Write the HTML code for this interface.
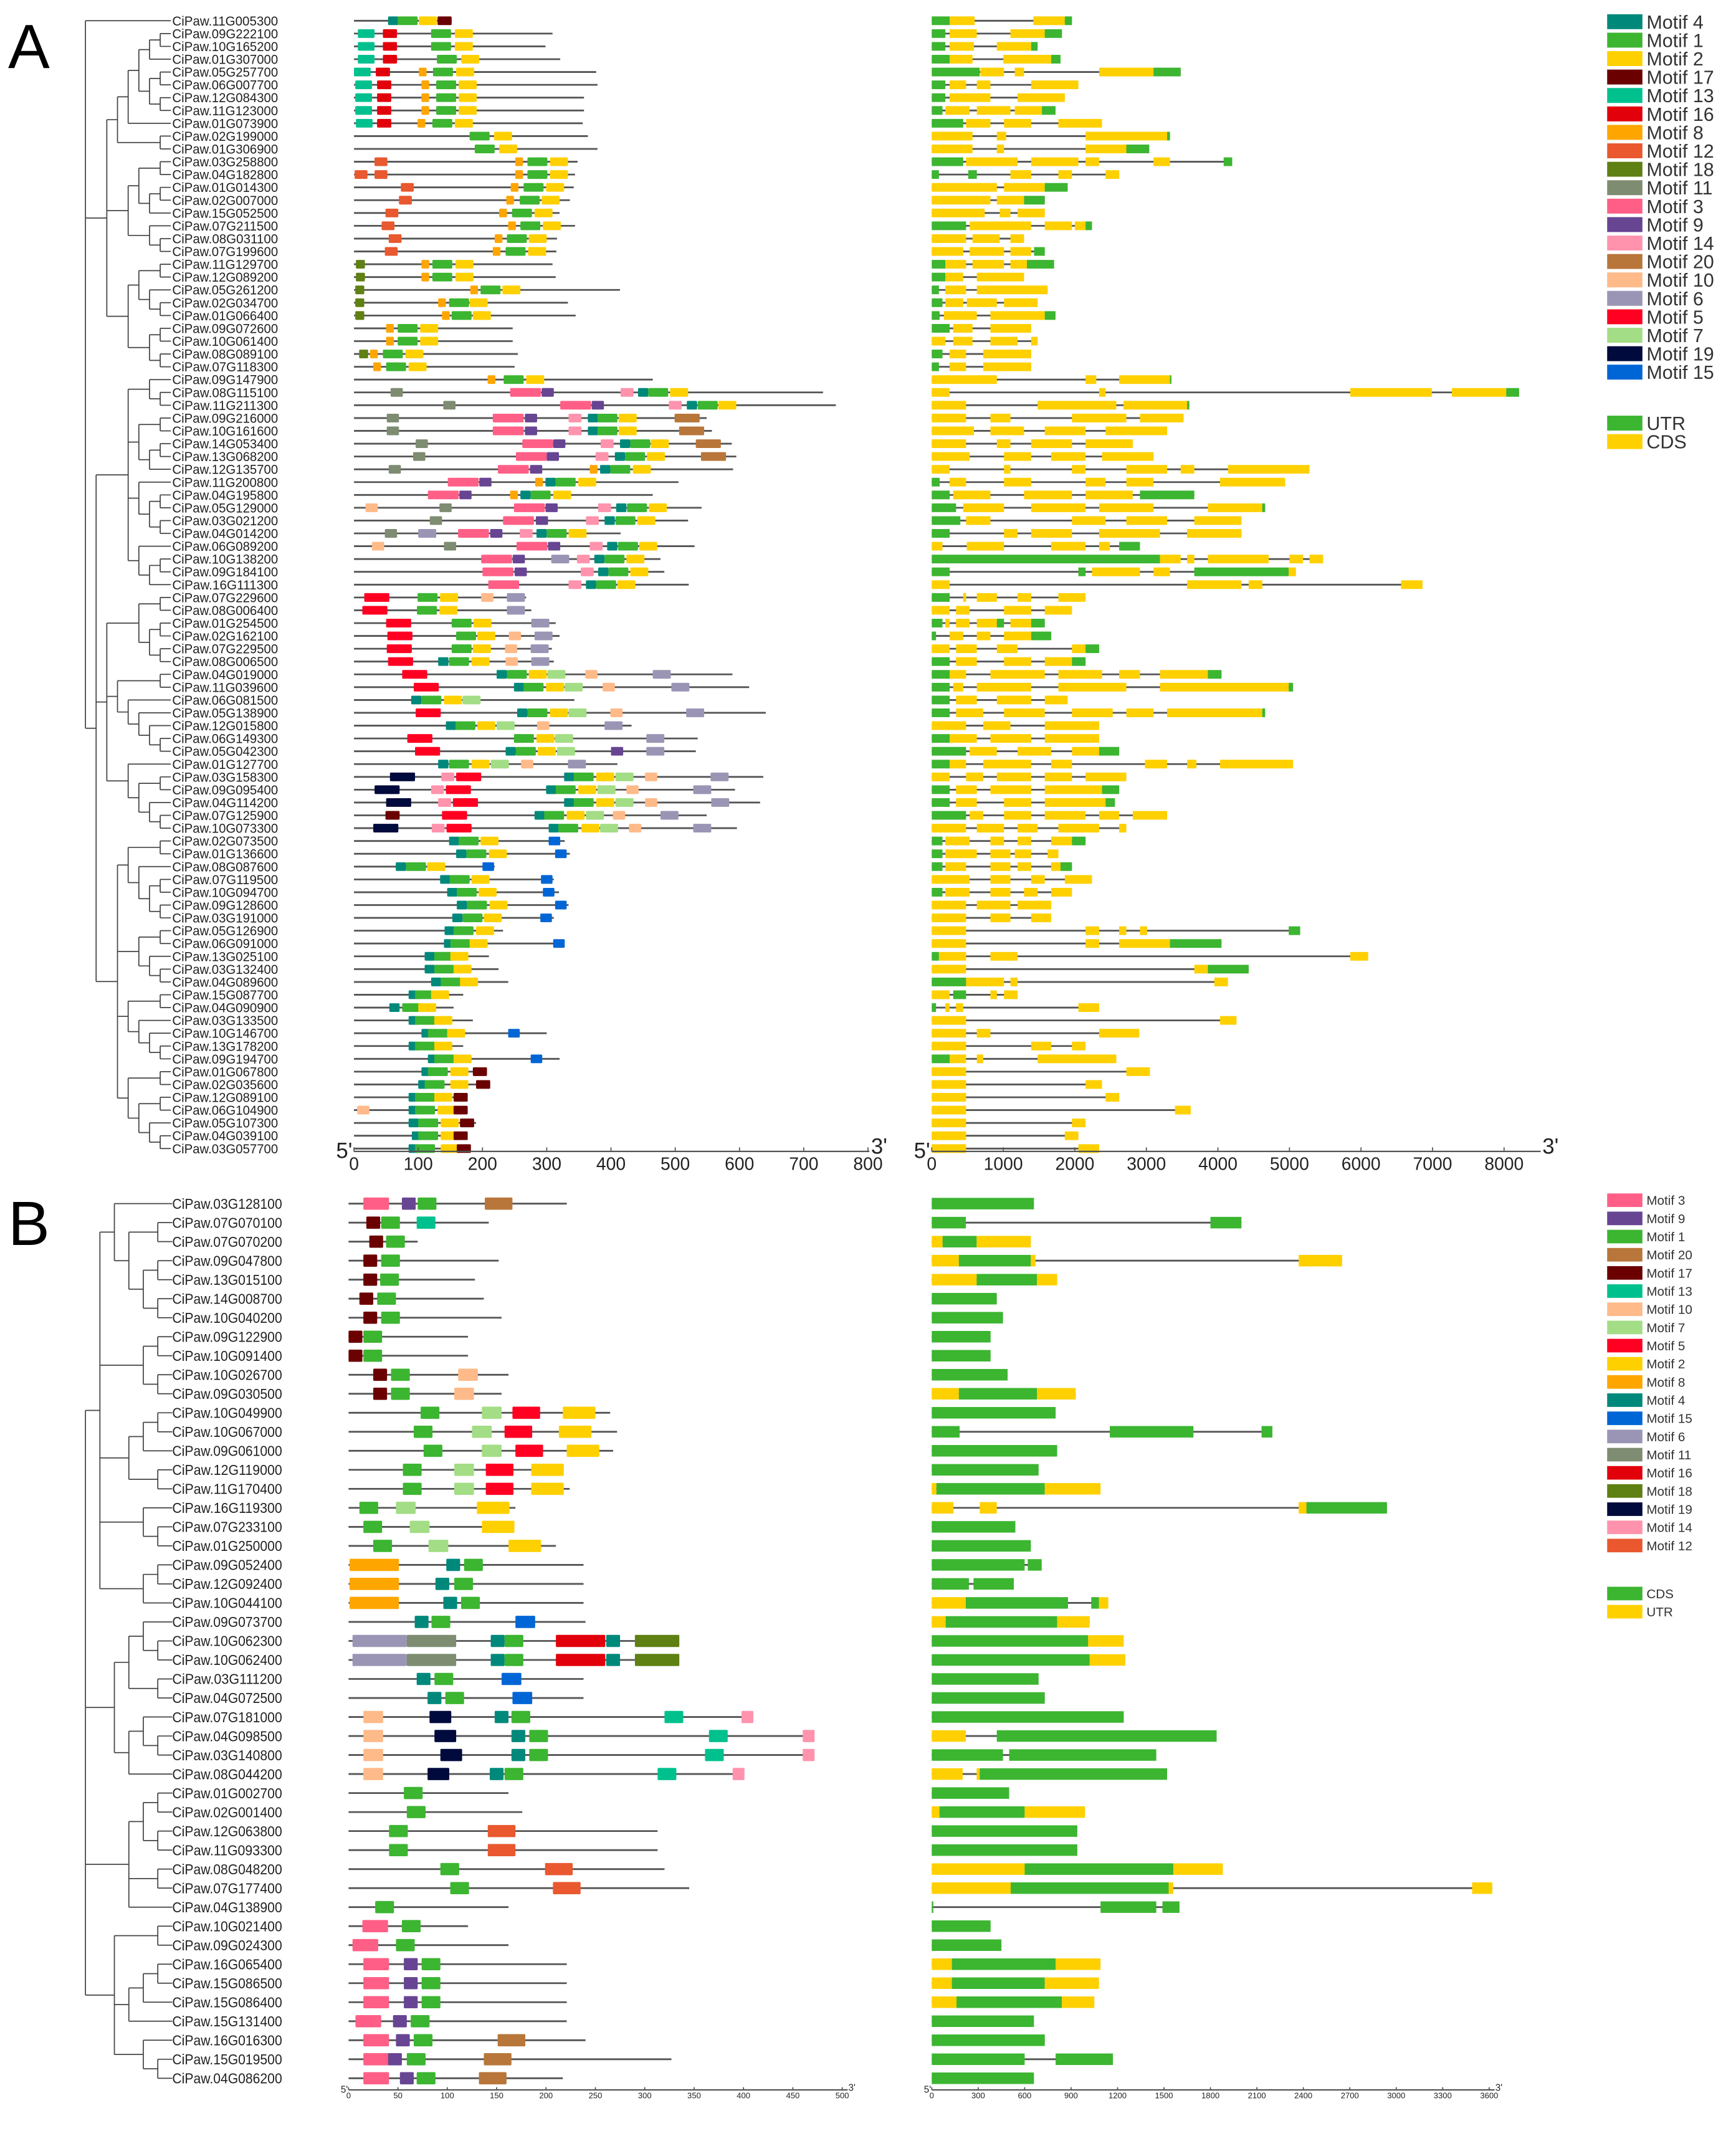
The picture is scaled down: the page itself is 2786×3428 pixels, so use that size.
<!DOCTYPE html>
<html><head><meta charset="utf-8"><title>Motif and gene structure</title>
<style>
html,body{margin:0;padding:0;background:#fff;}
svg{display:block;}
text{font-family:"Liberation Sans",Arial,sans-serif;}
</style></head>
<body>
<svg id="fig" xmlns="http://www.w3.org/2000/svg" width="2786" height="3428" viewBox="0 0 1280 1575" preserveAspectRatio="none">
<text x="6" y="50" font-size="46">A</text>
<text x="6" y="918" font-size="46">B</text>
<g id="gA"></g>
<g id="gB"></g>
</svg>
<script>
// ---------- colours ----------
const COL={1:'#3cb531',2:'#ffd000',3:'#ff5f86',4:'#00897b',5:'#ff0022',6:'#9b95b5',7:'#a3dd85',8:'#ffa500',9:'#674593',10:'#ffba8a',11:'#7e8c72',12:'#e9582f',13:'#00c18e',14:'#ff93ad',15:'#0066d6',16:'#e2000b',17:'#6b0000',18:'#5f8013',19:'#000a3c',20:'#b8763a'};
const GREEN='#3cb531', YELLOW='#ffd000';
// ---------- panel A data ----------
const namesA=["11G005300","09G222100","10G165200","01G307000","05G257700","06G007700","12G084300","11G123000","01G073900","02G199000","01G306900","03G258800","04G182800","01G014300","02G007000","15G052500","07G211500","08G031100","07G199600","11G129700","12G089200","05G261200","02G034700","01G066400","09G072600","10G061400","08G089100","07G118300","09G147900","08G115100","11G211300","09G216000","10G161600","14G053400","13G068200","12G135700","11G200800","04G195800","05G129000","03G021200","04G014200","06G089200","10G138200","09G184100","16G111300","07G229600","08G006400","01G254500","02G162100","07G229500","08G006500","04G019000","11G039600","06G081500","05G138900","12G015800","06G149300","05G042300","01G127700","03G158300","09G095400","04G114200","07G125900","10G073300","02G073500","01G136600","08G087600","07G119500","10G094700","09G128600","03G191000","05G126900","06G091000","13G025100","03G132400","04G089600","15G087700","04G090900","03G133500","10G146700","13G178200","09G194700","01G067800","02G035600","12G089100","06G104900","05G107300","04G039100","03G057700"];
const protLenA=[152,309,298,321,377,379,358,358,356,364,379,348,344,342,336,320,344,316,315,309,314,414,333,345,247,247,255,250,465,730,750,549,557,588,595,590,505,465,541,520,415,530,477,483,521,268,276,314,320,308,311,589,615,343,641,432,535,532,410,637,593,632,549,596,328,336,219,311,319,334,311,232,320,210,225,240,170,155,185,300,170,320,205,210,175,175,190,175,180];
const motifsA=["4@53,1@68,2@101,17@130","13@6,16@45,1@120,2@157","13@6,16@45,1@120,2@157","13@6,16@45,1@129,2@167","13@0,16@34,8@101,1@123,2@159","13@2,16@36,8@105,1@128,2@163","13@2,16@36,8@105,1@128,2@163","13@2,16@36,8@105,1@128,2@163","13@3,16@36,8@99,1@122,2@157","1@180,2@218","1@188,2@226","12@32,8@251,1@270,2@305","12@1,12@32,8@251,1@270,2@305","12@73,8@244,1@264,2@299","12@70,8@237,1@258,2@292","12@49,8@226,1@246,2@281","12@43,8@240,1@259,2@294","12@54,8@219,1@238,2@272","12@48,8@216,1@236,2@271","18@3,8@105,1@122,2@158","18@3,8@105,1@122,2@158","18@2,8@181,1@197,2@231","18@2,8@131,1@148,2@180","18@2,8@137,1@152,2@185","8@50,1@68,2@103","8@50,1@68,2@103","18@8,8@25,1@45,2@80","8@30,1@50,2@85","8@208,1@233,2@268","11@57,3@243,9@292,14@415,4@442,1@458,2@492","11@139,3@321,9@370,14@490,4@518,1@535,2@567","11@51,3@216,9@266,14@334,4@364,1@379,2@412,20@499","11@51,3@216,9@266,14@334,4@364,1@379,2@412,20@506","11@96,3@262,9@310,14@384,4@414,1@430,2@462,20@532","11@92,3@252,9@300,14@376,4@406,1@422,2@456,20@540","11@54,3@224,9@274,8@367,4@383,1@399,2@434","3@146,9@195,8@282,4@298,1@314,2@349","3@115,9@164,8@243,4@259,1@275,2@310","10@18,11@133,3@249,9@298,14@380,4@408,1@425,2@459","11@118,3@232,9@283,14@361,4@390,1@407,2@441","11@48,6@100,3@162,9@212,14@258,4@284,1@300,2@334","10@28,11@140,3@253,9@302,14@367,4@394,1@411,2@444","3@198,9@247,6@307,14@347,4@374,1@390,2@424","3@200,9@250,14@353,4@380,1@396,2@430","3@209,14@334,4@361,1@377,2@410","5@16,1@99,2@134,10@198,6@238","5@13,1@98,2@133,6@238","5@50,1@152,2@186,6@276","5@52,1@159,2@192,10@241,6@281","5@51,1@152,2@185,10@235,6@275","5@53,4@131,1@148,2@183,10@236,6@276","5@75,4@222,1@238,2@272,7@301,10@360,6@465","5@93,4@249,1@264,2@299,7@328,10@387,6@494","4@89,1@105,2@140,7@169","5@96,4@254,1@270,2@305,7@334,10@399,6@517","4@143,1@158,2@192,7@222,10@285,6@390","5@83,1@249,2@284,7@313,6@455","5@95,4@236,1@252,2@286,7@316,9@400,6@455","4@131,1@148,2@183,7@213,10@260,6@333","19@56,14@136,5@159,4@327,1@342,2@377,7@407,10@453,6@555","19@32,14@120,5@143,4@299,1@314,2@349,7@379,10@424,6@528","19@50,14@131,5@154,4@327,1@342,2@377,7@407,10@453,6@556","17@49,5@137,4@281,1@296,2@331,7@361,10@403,6@477","19@30,14@121,5@144,4@303,1@318,2@354,7@383,10@428,6@528","4@148,1@163,2@197,15@303","4@159,1@175,2@210,15@313","4@65,1@81,2@114,15@200","4@134,1@149,2@183,15@291","4@145,1@160,2@194,15@294","4@160,1@176,2@211,15@313","4@153,1@169,2@202,15@290","4@141,1@155,2@190","4@140,1@150,2@180,15@310","4@110,1@125,2@150","4@110,1@125,2@155","4@120,1@135,2@165","4@85,1@95,2@120","4@55,1@75,2@100","4@85,1@95,2@125","4@105,1@115,2@145,15@240","4@85,1@95,2@125","4@115,1@125,2@155,15@275","4@105,1@115,2@150,17@185","4@100,1@110,2@150,17@190","4@85,1@95,2@125,17@155","10@5,4@85,1@95,2@130,17@155","4@85,1@100,2@135,17@165","4@90,1@100,2@135,17@155","4@85,1@95,2@135,17@160"];
const geneA=["G0-250,Y250-600,Y1420-1860,G1860-1960","G0-190,Y250-630,Y1100-1580,G1580-1820","G0-190,Y250-590,Y910-1390,G1390-1480","G0-250,Y250-570,Y1000-1670,G1670-1800","G0-670,Y680-1010,Y1160-1290,Y2340-3100,G3100-3480","G0-190,Y250-480,Y630-820,Y1390-2050","G0-190,Y250-820,Y1200-1860","G0-150,Y190-530,Y630-1100,Y1160-1540,G1540-1730","G0-440,Y480-820,Y1010-1390,Y1770-2380","Y0-570,Y910-1040,Y2150-3290,G3290-3330","Y0-570,Y910-1010,Y2150-2720,G2720-3040","G0-440,Y480-1200,Y1390-2050,Y2150-2340,Y3100-3330,G4080-4200","G0-100,G510-630,Y1100-1390,Y1770-1960,Y2430-2620","Y0-910,Y1010-1580,G1580-1900","Y0-820,Y910-1290,G1290-1580","Y0-740,Y950-1100,Y1200-1580","G0-480,Y530-1390,Y1580-1960,Y2000-2150,G2150-2240","Y0-480,Y570-950,Y1100-1290","Y0-440,Y530-1010,Y1100-1390,G1430-1580","G0-190,Y190-480,Y570-1010,Y1100-1330,G1330-1710","G0-190,Y190-440,Y630-1290","G0-100,Y190-480,Y630-1620","G0-150,Y190-440,Y490-910,Y1010-1480","G0-110,Y170-630,Y820-1580,G1580-1730","G0-250,Y300-570,Y820-1390","Y0-190,Y300-570,Y820-1200,Y1390-1480","G0-150,Y250-480,Y720-1390","G0-100,Y250-480,Y720-1390","Y0-910,Y2150-2300,Y2620-3330,G3330-3350","Y0-250,Y2340-2430,Y5850-6990,Y7270-8030,G8030-8210","Y0-480,Y1480-2580,Y2680-3570,G3570-3600","Y0-480,Y820-1100,Y1960-2720,Y2910-3520","Y0-590,Y820-1290,Y1580-2150,Y2430-3290","Y0-480,Y910-1100,Y1390-1960,Y2150-2810","Y0-530,Y1010-1390,Y1670-2150,Y2380-3100","Y0-250,Y1010-1100,Y1960-2150,Y2720-3290,Y3480-3670,Y4140-5280","G0-110,Y250-480,Y1010-1390,Y2150-2430,Y2720-3100,Y4030-4940","G0-250,Y300-820,Y1290-1960,Y2150-2810,G2910-3670","G0-340,Y440-1010,Y1390-2150,Y2340-3100,Y3860-4620,G4620-4660","G0-400,Y480-820,Y1960-2430,Y2720-3290,Y3670-4330","G0-250,Y1010-1200,Y1390-1960,Y2340-3190,Y3570-4330","Y0-150,Y490-1010,Y1670-2150,Y2340-2490,G2620-2910","G0-3190,Y3190-3480,Y3570-3670,Y3860-4710,Y5000-5190,Y5280-5470","G0-250,G2050-2150,Y2240-2910,Y3100-3330,G3670-4990,Y4990-5090","Y0-250,Y3570-4330,Y4430-4620,Y6560-6860","G0-250,Y440-480,Y630-910,Y1200-1390,Y1770-2150","Y0-250,Y340-530,Y1010-1390,Y1580-1960","G0-150,Y190-250,Y340-530,Y630-910,G910-1010,Y1100-1390,G1390-1580","G0-60,Y250-440,Y630-820,Y1010-1390,G1390-1670","Y0-250,Y340-630,Y910-1200,Y1960-2150,G2150-2340","G0-250,Y340-630,Y1010-1390,Y1580-1960,G1960-2150","G0-250,Y250-480,Y820-1580,Y1770-2380,Y2620-2910,Y3190-3860,G3860-4050","G0-250,Y300-440,Y630-1390,Y1770-2720,Y3190-4990,G4990-5050","G0-250,Y340-630,Y910-1390,Y1580-1900","G0-250,Y340-720,Y1010-1580,Y1960-2530,Y2720-3100,Y3290-4620,G4620-4660","Y0-480,Y720-1100,Y1580-2340","G0-250,Y250-630,Y820-1390,Y1580-2340","G0-480,Y530-910,Y1200-1670,Y1960-2340,G2340-2620","G0-250,Y250-480,Y720-1390,Y1670-1960,Y2980-3290,Y3570-3700,Y4030-5050","Y0-250,Y480-720,Y910-1390,Y1580-1960,Y2150-2720","G0-250,Y340-630,Y820-1390,Y1580-2380,G2380-2620","G0-250,Y340-630,Y1010-1390,Y1580-2430,G2430-2560","G0-480,Y530-720,Y1010-1390,Y1580-2150,Y2340-2620,Y2810-3290","Y0-480,Y630-1010,Y1200-1480,Y1770-2340,Y2620-2720","G0-150,Y190-530,Y820-1010,Y1200-1390,Y1670-1960,G1960-2150","G0-150,Y190-630,Y820-1100,Y1160-1390,Y1620-1770","G0-150,Y190-480,Y820-1100,Y1200-1390,Y1670-1800,G1800-1960","Y0-530,Y820-1100,Y1390-1580,Y1860-2240","G0-150,Y190-530,Y820-1100,Y1290-1480,Y1670-1960","Y0-480,Y630-1100,Y1200-1670","Y0-480,Y820-1100,Y1390-1670","Y0-480,Y2150-2340,Y2620-2720,Y2910-3010,G4990-5150","Y0-480,Y2150-2340,Y2620-3330,G3330-4050","G0-100,Y100-480,Y820-1200,Y5850-6100","Y0-480,Y3670-3860,G3860-4430","G0-480,Y480-1010,Y1100-1200,Y3950-4140","Y0-250,G300-480,Y820-910,Y1010-1200","G0-60,Y190-250,Y340-440,Y2050-2340","Y0-480,Y4030-4260","Y0-480,Y630-820,Y2340-2900","Y0-480,Y1390-1670,Y1960-2150","G0-250,Y250-480,Y630-720,Y1480-2580","Y0-480,Y2720-3050","Y0-480,Y2150-2380","Y0-480,Y2430-2620","Y0-480,Y3400-3620","Y0-480,Y1960-2150","Y0-480,Y1860-2050","Y0-480,Y2050-2340"];
const treeA=[0,[[[[[[1,2],3],[[4,5],[6,7]]],8],[9,10]],[[[11,12],[[13,14],15]],[16,[17,18]]],[[[19,20],[21,[22,23]]],[[24,25],[26,27]]]],[[[28,[29,30]],[[31,32],[[33,34],35]],[36,[[37,38],[39,40]]],[41,[[42,43],44]]],[[[45,46],[[47,48],[49,50]]],[[51,52],[53,[54,[55,[56,57]]]]],[58,[[59,60],[61,[62,63]]]]],[[[64,65],[66,[[67,68],[69,70]]]],[[71,72],[73,[74,75]]],[[76,77],[78,[79,[80,81]]]],[[82,83],[[84,85],[86,[87,88]]]]]]];
const ticksMotifA=[0,100,200,300,400,500,600,700,800];
const ticksGeneA=[0,1000,2000,3000,4000,5000,6000,7000,8000];
const legendA=[4,1,2,17,13,16,8,12,18,11,3,9,14,20,10,6,5,7,19,15];
const motifLenA={1:31,2:28,3:48,4:16,5:39,6:28,7:28,8:12,9:19,10:19,11:19,12:20,13:26,14:20,15:18,16:22,17:22,18:14,19:39,20:39};
// ---------- panel B data ----------
const namesB=["03G128100","07G070100","07G070200","09G047800","13G015100","14G008700","10G040200","09G122900","10G091400","10G026700","09G030500","10G049900","10G067000","09G061000","12G119000","11G170400","16G119300","07G233100","01G250000","09G052400","12G092400","10G044100","09G073700","10G062300","10G062400","03G111200","04G072500","07G181000","04G098500","03G140800","08G044200","01G002700","02G001400","12G063800","11G093300","08G048200","07G177400","04G138900","10G021400","09G024300","16G065400","15G086500","15G086400","15G131400","16G016300","15G019500","04G086200"];
const protLenB=[221,142,70,152,128,137,155,121,121,162,155,265,272,268,217,224,169,162,210,238,238,238,240,334,334,238,238,409,471,471,400,162,176,313,313,320,345,162,121,162,221,221,221,221,240,327,217];
const motifsB=["3@15,9@54,1@70,20@138","17@18,1@33,13@69","17@21,1@38","17@15,1@33","17@15,1@32","17@11,1@29","17@15,1@33","17@0,1@15","17@0,1@15","17@25,1@43,10@111","17@25,1@43,10@107","1@73,7@135,5@166,2@217","1@66,7@125,5@158,2@213","1@76,7@135,5@169,2@221","1@55,7@107,5@139,2@185","1@55,7@107,5@139,2@185","1@11,7@48,2@130","1@15,7@62,2@135","1@25,7@81,2@162","8@1,4@99,1@117","8@1,4@88,1@107","8@1,4@96,1@114","4@67,1@84,15@169","6@4,11@59,4@144,1@158,16@210,4@261,18@290","6@4,11@59,4@144,1@158,16@210,4@261,18@290","4@69,1@87,15@155","4@80,1@98,15@166","10@15,19@82,4@148,1@165,13@320,14@398","10@15,19@87,4@165,1@183,13@365,14@460","10@15,19@93,4@165,1@183,13@361,14@460","10@15,19@80,4@143,1@158,13@313,14@389","1@56","1@59","1@41,12@141","1@41,12@141","1@93,12@199","1@103,12@207","1@27","3@14,1@54","3@4,1@48","3@15,9@56,1@74","3@15,9@56,1@74","3@15,9@56,1@74","3@7,9@45,1@63","3@15,9@48,1@66,20@151","3@15,9@40,1@59,20@137","3@15,9@52,1@69,20@132"];
const geneB=["C0-660","C0-220,C1800-2000","U0-70,C70-290,U290-640","U0-175,C175-640,U640-670,U2370-2650","U0-290,C290-680,U680-810","C0-420","C0-460","C0-380","C0-380","C0-490","U0-175,C175-680,U680-930","C0-800","C0-180,C1150-1690,C2130-2200","C0-810","C0-690","U0-30,C30-730,U730-1090","U0-140,U310-420,U2370-2420,C2420-2940","C0-540","C0-640","C0-600,C620-710","C0-240,C270-530","U0-220,C220-880,C1030-1080,U1080-1140","U0-90,C90-810,U810-1020","C0-1010,U1010-1240","C0-1020,U1020-1250","C0-690","C0-730","C0-1240","U0-220,C420-1840","C0-460,C500-1450","U0-200,U290-310,C310-1520","C0-500","U0-50,C50-600,U600-990","C0-940","C0-940","U0-600,C600-1560,U1560-1880","U0-510,C510-1530,U1530-1560,U3490-3620","C0-10,C1090-1450,C1490-1600","C0-380","C0-450","U0-130,C130-800,U800-1090","U0-130,C130-730,U730-1080","U0-160,C160-840,U840-1050","C0-660","C0-730","C0-600,C800-1170","C0-660"];
const treeB=[[[0,[[1,2],[[3,4],[5,6]]]],[[7,8],[9,10]],[[[11,12],13],[14,15]],[16,[17,18]],[[19,20],21]],[[[22,[23,24]],[25,26]],[[27,[28,29]],30]],[[[31,32],[33,34]],[35,36],37],[[38,39],[[[40,41],42],43],[44,[45,46]]]];
const ticksMotifB=[0,50,100,150,200,250,300,350,400,450,500];
const ticksGeneB=[0,300,600,900,1200,1500,1800,2100,2400,2700,3000,3300,3600];
const legendB=[3,9,1,20,17,13,10,7,5,2,8,4,15,6,11,16,18,19,14,12];
const motifLenB={1:19,2:33,3:26,4:14,5:28,6:55,7:20,8:50,9:14,10:20,11:50,12:28,13:19,14:12,15:20,16:50,17:14,18:45,19:22,20:28};

// ---------- helpers ----------
const NS='http://www.w3.org/2000/svg';
function mk(parent,tag,attrs){const e=document.createElementNS(NS,tag);for(const k in attrs)e.setAttribute(k,attrs[k]);parent.appendChild(e);return e;}
function parseM(s){return s?s.split(',').map(t=>{const p=t.split('@');return [+p[0],+p[1]];}):[];}
function parseG(s){return s.split(',').map(t=>{const p=t.slice(1).split('-');return [t[0],+p[0],+p[1]];});}
function linScale(d0,d1,r0,r1){return v=>r0+(v-d0)*(r1-r0)/(d1-d0);}

function drawTree(g,tree,rowY,leafX,rootX){
  function ht(n){if(typeof n==='number')return 0;let m=0;for(const c of n)m=Math.max(m,ht(c));return m+1;}
  const H=ht(tree);const unit=(leafX-rootX)/H;
  function rec(n){
    if(typeof n==='number')return {x:leafX,y:rowY(n)};
    const h=ht(n);const x=leafX-h*unit;const kids=n.map(rec);
    for(const k of kids){const l=mk(g,'line',{x1:x,y1:k.y,x2:k.x,y2:k.y,stroke:'#444','stroke-width':0.8});
      
      }
    const y0=kids[0].y,y1=kids[kids.length-1].y;
    const v=mk(g,'line',{x1:x,y1:y0,x2:x,y2:y1,stroke:'#444','stroke-width':0.8});
    
    
    return {x:x,y:(y0+y1)/2};
  }
  rec(tree);
}

function drawPanel(opt){
  const g=document.getElementById(opt.gid);
  const rowY=i=>opt.y0+i*opt.dy;
  const sx=linScale(0,opt.mMaxTick,opt.mX0,opt.mX1);
  const gx=linScale(0,opt.gMaxTick,opt.gX0,opt.gX1);
  drawTree(g,opt.tree,rowY,opt.leafX,opt.rootX);
  opt.names.forEach((n,i)=>{
    const y=rowY(i);
    const t=mk(g,'text',{x:opt.nameX,y:y+opt.fs*0.36,'font-size':opt.fs,fill:'#222',textLength:opt.nameW,lengthAdjust:'spacingAndGlyphs'});
    t.textContent='CiPaw.'+n;
    
    
    // protein line
    const L=mk(g,'line',{x1:sx(0),y1:y,x2:sx(opt.plen[i]),y2:y,stroke:'#555','stroke-width':1.3});
    
    
    parseM(opt.motifs[i]).forEach(([m,p])=>{
      const r=mk(g,'rect',{x:sx(p),y:y-opt.mh/2,width:sx(p+opt.mlen[m])-sx(p),height:opt.mh,fill:COL[m],rx:0.8});
      
      
    });
    // gene structure
    const segs=parseG(opt.genes[i]);
    const end=Math.max(...segs.map(s=>s[2]));
    const gl=mk(g,'line',{x1:gx(0),y1:y,x2:gx(end),y2:y,stroke:'#555','stroke-width':1.3});
    
    
    segs.forEach(([ty,a,b])=>{
      const fill=(ty==='G'||ty==='C')?GREEN:YELLOW;
      const r=mk(g,'rect',{x:gx(a),y:y-opt.gh/2,width:Math.max(0.8,gx(b)-gx(a)),height:opt.gh,fill:fill});
      
      
    });
  });
  // axes
  function axis(scale,ticks,x0,xEnd,name){
    const ay=opt.axisY;
    const a=mk(g,'line',{x1:x0,y1:ay,x2:xEnd,y2:ay,stroke:'#555','stroke-width':1});
    
    
    ticks.forEach(t=>{
      const x=scale(t);
      const tk=mk(g,'line',{x1:x,y1:ay,x2:x,y2:ay-opt.tick,stroke:'#555','stroke-width':0.8});
      
      
      const tl=mk(g,'text',{x:x,y:ay+opt.tfs*1.05,'font-size':opt.tfs,'text-anchor':'middle',fill:'#222'});
      tl.textContent=t;
      
      
    });
    const f=mk(g,'text',{x:x0-opt.pfs*0.45,y:ay+opt.pfs*0.3,'font-size':opt.pfs,'text-anchor':'middle',fill:'#222'});
    f.textContent="5'";
    
    
    const e=mk(g,'text',{x:xEnd+opt.pfs*0.45,y:ay+opt.pfs*0.1,'font-size':opt.pfs,'text-anchor':'middle',fill:'#222'});
    e.textContent="3'";
    
    
  }
  axis(sx,opt.mTicks,opt.mX0,opt.mAxisEnd,'motif');
  axis(gx,opt.gTicks,opt.gX0,opt.gAxisEnd,'gene');
  // legend
  opt.legend.forEach((m,k)=>{
    const y=opt.legY+k*opt.legDy;
    const r=mk(g,'rect',{x:1185,y:y-opt.legH/2,width:26,height:opt.legH,fill:COL[m]});
    
    
    const t=mk(g,'text',{x:1214,y:y+opt.legFs*0.36,'font-size':opt.legFs,fill:'#333'});
    t.textContent='Motif '+m;
    
    
  });
  opt.legGene.forEach((e,k)=>{
    const y=opt.legGeneY+k*opt.legDy;
    const r=mk(g,'rect',{x:1185,y:y-opt.legH/2,width:26,height:opt.legH,fill:e[1]});
    
    
    const t=mk(g,'text',{x:1214,y:y+opt.legFs*0.36,'font-size':opt.legFs,fill:'#333'});
    t.textContent=e[0];
    
    
  });
}

drawPanel({gid:'gA',names:namesA,plen:protLenA,motifs:motifsA,genes:geneA,tree:treeA,mlen:motifLenA,
  y0:15.3,dy:9.45,leafX:126,rootX:63,nameX:127,nameW:78,fs:9.6,mh:6.4,gh:6.4,
  mX0:261,mX1:640,mMaxTick:800,mTicks:ticksMotifA,mAxisEnd:641,
  gX0:687,gX1:1109,gMaxTick:8000,gTicks:ticksGeneA,gAxisEnd:1136,
  axisY:849,tick:3,tfs:13,pfs:16,
  legend:legendA,legY:16,legDy:13.6,legH:11,legFs:14,
  legGene:[['UTR',GREEN],['CDS',YELLOW]],legGeneY:312});

drawPanel({gid:'gB',names:namesB,plen:protLenB,motifs:motifsB,genes:geneB,tree:treeB,mlen:motifLenB,
  y0:887.5,dy:14.02,leafX:127,rootX:63,nameX:127,nameW:81,fs:10.5,mh:9,gh:8.5,
  mX0:257,mX1:621,mMaxTick:500,mTicks:ticksMotifB,mAxisEnd:625,
  gX0:687,gX1:1098,gMaxTick:3600,gTicks:ticksGeneB,gAxisEnd:1102,
  axisY:1541,tick:2,tfs:6,pfs:7,
  legend:legendB,legY:885,legDy:13.4,legH:10,legFs:9.5,
  legGene:[['CDS',GREEN],['UTR',YELLOW]],legGeneY:1175});
</script>
</body></html>
